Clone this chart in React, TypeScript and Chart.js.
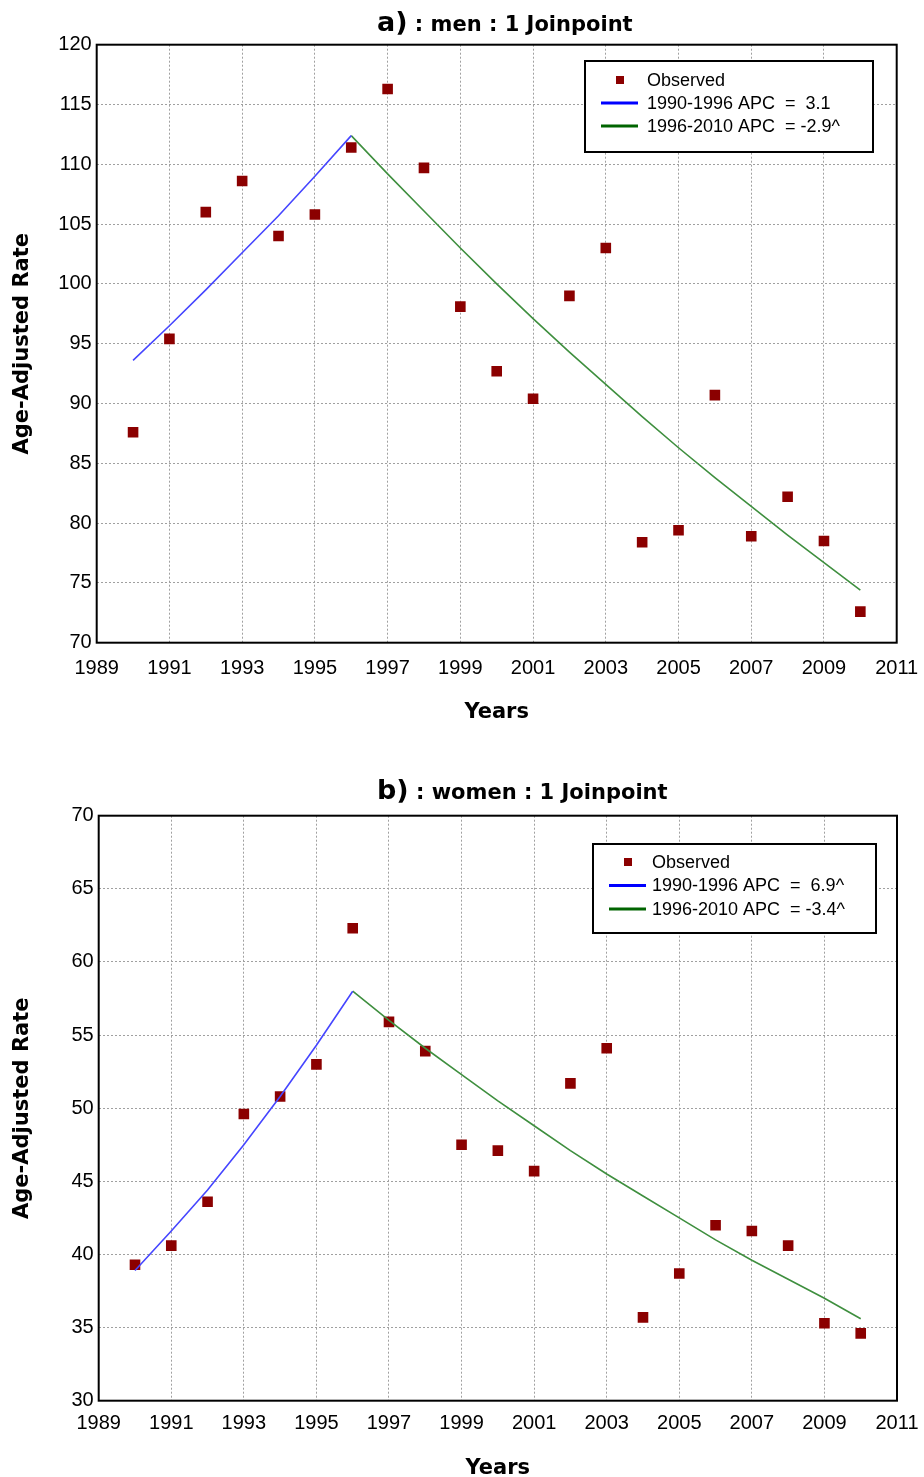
import React, { useEffect, useRef } from "react";
import { Chart, registerables } from "chart.js";

Chart.register(...registerables);

// ---------- data ----------
const years = [1990, 1991, 1992, 1993, 1994, 1995, 1996, 1997, 1998, 1999, 2000, 2001, 2002, 2003, 2004, 2005, 2006, 2007, 2008, 2009, 2010];
const seg1Years = [1990, 1991, 1992, 1993, 1994, 1995, 1996];
const seg2Years = [1996, 1997, 1998, 1999, 2000, 2001, 2002, 2003, 2004, 2005, 2006, 2007, 2008, 2009, 2010];
const xMin = 1989;
const xMax = 2011;
const xStep = 2;

const menObserved = [87.6, 95.4, 106.0, 108.6, 104.0, 105.8, 111.4, 116.3, 109.7, 98.1, 92.7, 90.4, 99.0, 103.0, 78.4, 79.4, 90.7, 78.9, 82.2, 78.5, 72.6];
const menFit1 = [93.6, 96.5, 99.5, 102.6, 105.7, 109.0, 112.4];
const menFit2 = [112.4, 109.2, 106.1, 103.0, 100.0, 97.1, 94.3, 91.6, 88.9, 86.3, 83.8, 81.4, 79.0, 76.7, 74.4];
const menYMin = 70;
const menYMax = 120;
const menTitle = ["a)", " : men : 1 Joinpoint"];
const menLegend = ["Observed", "1990-1996 APC  =  3.1", "1996-2010 APC  = -2.9^"];

const womenObserved = [39.3, 40.6, 43.6, 49.6, 50.8, 53.0, 62.3, 55.9, 53.9, 47.5, 47.1, 45.7, 51.7, 54.1, 35.7, 38.7, 42.0, 41.6, 40.6, 35.3, 34.6];
const womenFit1 = [38.9, 41.6, 44.4, 47.5, 50.8, 54.3, 58.0];
const womenFit2 = [58.0, 56.0, 54.1, 52.3, 50.5, 48.8, 47.1, 45.5, 44.0, 42.5, 41.0, 39.6, 38.3, 37.0, 35.6];
const womenYMin = 30;
const womenYMax = 70;
const womenTitle = ["b)", " : women : 1 Joinpoint"];
const womenLegend = ["Observed", "1990-1996 APC  =  6.9^", "1996-2010 APC  = -3.4^"];

const xTitle = "Years";
const yTitle = "Age-Adjusted Rate";
const yStep = 5;

// ---------- styling ----------
const OBS_COLOR = "#8b0000";
const BLUE_LINE = "#4646ff";
const GREEN_LINE = "#3f8f3f";
const BLUE_LEGEND = "#0000ff";
const GREEN_LEGEND = "#006400";
const TICK_FONT = '"Liberation Sans", Arial, sans-serif';
const BOLD_FONT = '"DejaVu Sans", Verdana, sans-serif';

const decorPlugin = {
  id: "decor",
  afterDraw(chart: any, _args: any, opts: any) {
    const ctx = chart.ctx as CanvasRenderingContext2D;
    const a = chart.chartArea;
    ctx.save();
    // frame
    ctx.strokeStyle = "#000";
    ctx.lineWidth = 2;
    ctx.setLineDash([]);
    ctx.strokeRect(a.left, a.top, a.right - a.left, a.bottom - a.top);

    // title
    ctx.fillStyle = "#000";
    ctx.textBaseline = "alphabetic";
    ctx.textAlign = "left";
    ctx.font = `bold 27px ${BOLD_FONT}`;
    ctx.fillText(opts.title[0], opts.titleX, opts.titleY);
    const w = ctx.measureText(opts.title[0]).width;
    ctx.font = `bold 21px ${BOLD_FONT}`;
    ctx.fillText(opts.title[1], opts.titleX + w, opts.titleY);

    // legend
    const L = opts.legend;
    ctx.fillStyle = "#fff";
    ctx.fillRect(L.x, L.y, L.w, L.h);
    ctx.strokeStyle = "#000";
    ctx.lineWidth = 2;
    ctx.strokeRect(L.x, L.y, L.w, L.h);
    const rowY = (i: number) => L.y + L.firstRow + i * L.rowGap;
    ctx.fillStyle = OBS_COLOR;
    ctx.fillRect(L.x + L.markerX - 4, rowY(0) - 4, 8, 8);
    ctx.lineWidth = 3;
    ctx.strokeStyle = BLUE_LEGEND;
    ctx.beginPath();
    ctx.moveTo(L.x + L.lineX0, rowY(1));
    ctx.lineTo(L.x + L.lineX1, rowY(1));
    ctx.stroke();
    ctx.strokeStyle = GREEN_LEGEND;
    ctx.beginPath();
    ctx.moveTo(L.x + L.lineX0, rowY(2));
    ctx.lineTo(L.x + L.lineX1, rowY(2));
    ctx.stroke();
    ctx.fillStyle = "#000";
    ctx.font = `18px ${TICK_FONT}`;
    ctx.textBaseline = "middle";
    L.labels.forEach((t: string, i: number) => {
      ctx.fillText(t, L.x + L.textX, rowY(i) + 1);
    });
    ctx.restore();
  },
};

type Cfg = {
  observed: number[];
  fit1: number[];
  fit2: number[];
  yMin: number;
  yMax: number;
  title: string[];
  legendLabels: string[];
  plotTop: number;
  padRight: number;
  yAxisW: number;
  xAxisH: number;
  xTickGap: number;
  xTitlePad: number;
  titleY: number;
  legend: any;
};

function buildConfig(c: Cfg): any {
  const gridColor = "#a0a0a0";
  return {
    type: "scatter",
    data: {
      datasets: [
        {
          label: c.legendLabels[0],
          data: years.map((x, i) => ({ x, y: c.observed[i] })),
          pointStyle: "rect",
          pointRadius: 7.5,
          pointHoverRadius: 7.5,
          backgroundColor: OBS_COLOR,
          borderColor: OBS_COLOR,
          borderWidth: 0,
          showLine: false,
          order: 2,
        },
        {
          label: c.legendLabels[1],
          data: seg1Years.map((x, i) => ({ x, y: c.fit1[i] })),
          showLine: true,
          pointRadius: 0,
          borderColor: BLUE_LINE,
          borderWidth: 1.6,
          fill: false,
          order: 1,
        },
        {
          label: c.legendLabels[2],
          data: seg2Years.map((x, i) => ({ x, y: c.fit2[i] })),
          showLine: true,
          pointRadius: 0,
          borderColor: GREEN_LINE,
          borderWidth: 1.6,
          fill: false,
          order: 1,
        },
      ],
    },
    options: {
      animation: false,
      responsive: false,
      events: [],
      layout: { padding: { top: c.plotTop, right: c.padRight, left: 0, bottom: 0 } },
      plugins: {
        legend: { display: false },
        tooltip: { enabled: false },
        title: { display: false },
        decor: {
          title: c.title,
          titleX: 377,
          titleY: c.titleY,
          legend: { ...c.legend, labels: c.legendLabels },
        },
      },
      scales: {
        x: {
          type: "linear",
          min: xMin,
          max: xMax,
          ticks: {
            stepSize: xStep,
            autoSkip: false,
            maxRotation: 0,
            callback: (v: any) => String(v),
            font: { family: TICK_FONT, size: 20, lineHeight: 1.2 },
            color: "#000",
            padding: 0,
          },
          grid: {
            color: gridColor,
            lineWidth: 1,
            drawTicks: true,
            tickLength: c.xTickGap,
            tickColor: "rgba(0,0,0,0)",
          },
          border: { display: false, dash: [2, 2] },
          title: {
            display: true,
            text: xTitle,
            color: "#000",
            font: { family: BOLD_FONT, size: 21, weight: "bold", lineHeight: 1 },
            padding: { top: 0, bottom: c.xTitlePad },
          },
          afterFit: (s: any) => {
            s.height = c.xAxisH;
          },
        },
        y: {
          type: "linear",
          min: c.yMin,
          max: c.yMax,
          ticks: {
            stepSize: yStep,
            callback: (v: any) => String(v),
            font: { family: TICK_FONT, size: 20, lineHeight: 1.2 },
            color: "#000",
            padding: 5,
          },
          grid: { color: gridColor, lineWidth: 1, drawTicks: false },
          border: { display: false, dash: [2, 2] },
          title: {
            display: true,
            text: yTitle,
            color: "#000",
            font: { family: BOLD_FONT, size: 21, weight: "bold", lineHeight: 1 },
            padding: { top: 12, bottom: 0 },
          },
          afterFit: (s: any) => {
            s.width = c.yAxisW;
          },
        },
      },
    },
    plugins: [decorPlugin],
  };
}

function JoinpointChart({ cfg, top, width, height }: { cfg: Cfg; top: number; width: number; height: number }) {
  const ref = useRef<HTMLCanvasElement>(null);
  useEffect(() => {
    if (!ref.current) return;
    const chart = new Chart(ref.current, buildConfig(cfg));
    return () => chart.destroy();
  }, []);
  return (
    <canvas
      ref={ref}
      width={width}
      height={height}
      style={{ position: "absolute", left: 0, top, width, height, display: "block" }}
    />
  );
}

const menCfg: Cfg = {
  observed: menObserved,
  fit1: menFit1,
  fit2: menFit2,
  yMin: menYMin,
  yMax: menYMax,
  title: menTitle,
  legendLabels: menLegend,
  plotTop: 44.7,
  padRight: 27.3,
  yAxisW: 96.7,
  xAxisH: 97.3,
  xTickGap: 14,
  xTitlePad: 16.5,
  titleY: 31,
  legend: { x: 585, y: 61, w: 288, h: 91, markerX: 35, lineX0: 16, lineX1: 53, textX: 62, firstRow: 19, rowGap: 23 },
};

const womenCfg: Cfg = {
  observed: womenObserved,
  fit1: womenFit1,
  fit2: womenFit2,
  yMin: womenYMin,
  yMax: womenYMax,
  title: womenTitle,
  legendLabels: womenLegend,
  plotTop: 75.7,
  padRight: 27,
  yAxisW: 98.7,
  xAxisH: 76.3,
  xTickGap: 11,
  xTitlePad: -2.5,
  titleY: 59,
  legend: { x: 593, y: 104, w: 283, h: 89, markerX: 35, lineX0: 16, lineX1: 53, textX: 59, firstRow: 18, rowGap: 23.5 },
};

export default function App() {
  return (
    <div style={{ position: "absolute", left: 0, top: 0, width: 924, height: 1477, background: "#fff", overflow: "hidden" }}>
      <JoinpointChart cfg={menCfg} top={0} width={924} height={740} />
      <JoinpointChart cfg={womenCfg} top={740} width={924} height={737} />
    </div>
  );
}
